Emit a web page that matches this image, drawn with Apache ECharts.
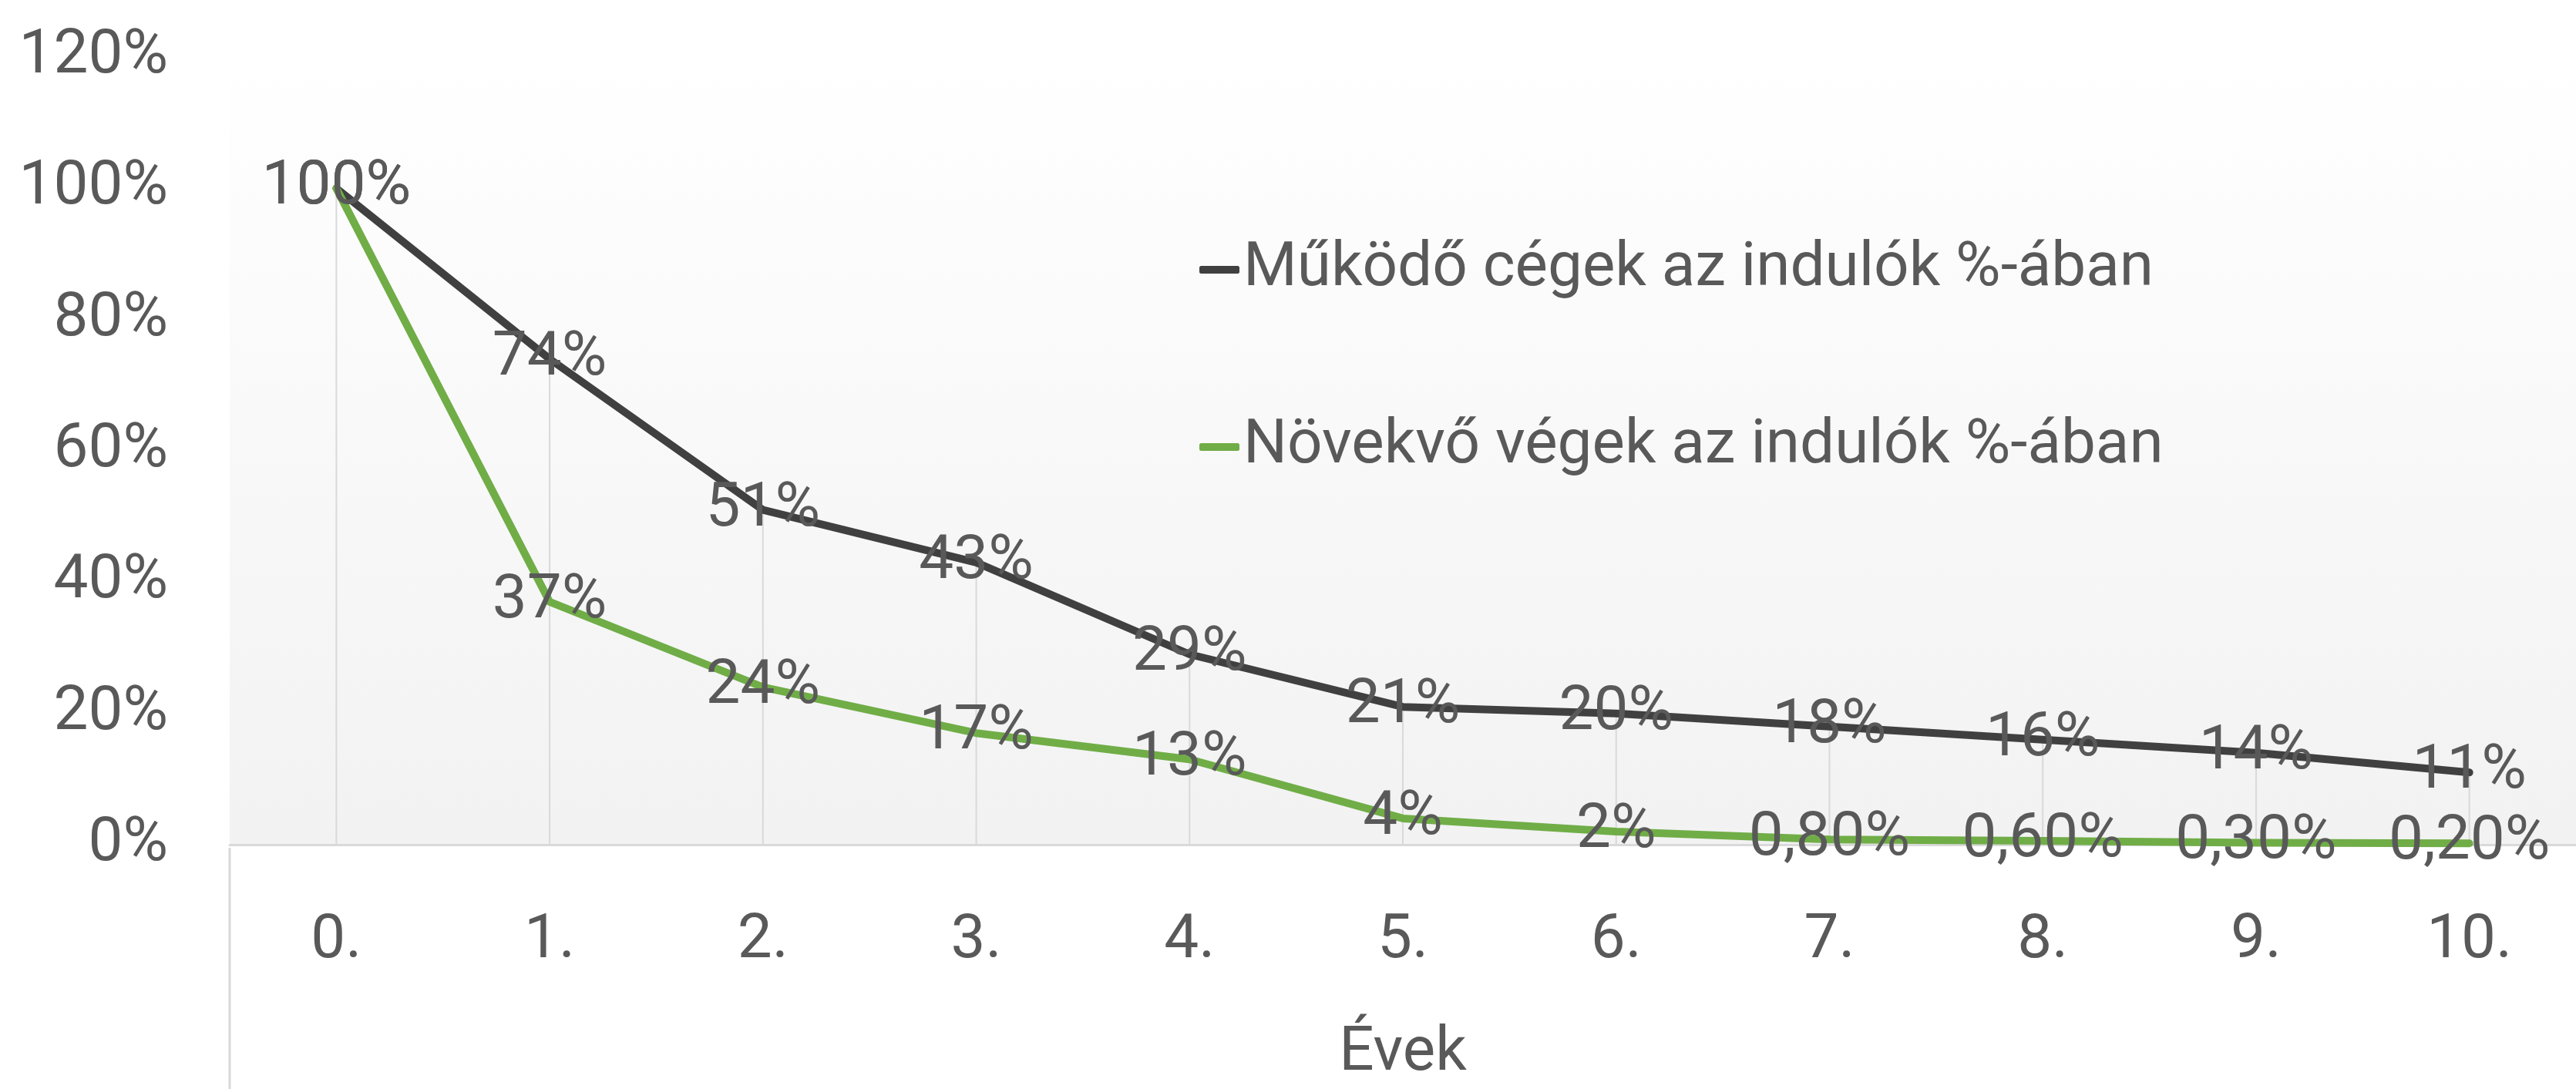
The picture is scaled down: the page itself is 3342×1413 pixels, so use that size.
<!DOCTYPE html>
<html>
<head>
<meta charset="utf-8">
<script src="https://cdn.jsdelivr.net/npm/echarts@6/dist/echarts.min.js"></script>
<style>
    html, body { margin: 0; padding: 0; background: #ffffff; }
    #chart { width: 3342px; height: 1413px; }
</style>
</head>
<body>
<div id="chart"></div>
<script>
const years = ['0.', '1.', '2.', '3.', '4.', '5.', '6.', '7.', '8.', '9.', '10.'];
const mukodo = [100, 74, 51, 43, 29, 21, 20, 18, 16, 14, 11];
const novekvo = [100, 37, 24, 17, 13, 4, 2, 0.8, 0.6, 0.3, 0.2];
const seriesNames = ['Működő cégek az indulók %-ában', 'Növekvő végek az indulók %-ában'];
const axisName = 'Évek';

// drop lines go from the axis up to the higher of the two points
const dropLines = mukodo.map((v, i) => Math.max(v, novekvo[i]));

const font = "Roboto, 'Liberation Sans', sans-serif";
const fontSize = 80;
const textColor = '#595959';

const fmt = (v) => Number.isInteger(v) ? v + '%' : v.toFixed(2).replace('.', ',') + '%';

const chart = echarts.init(document.getElementById('chart'));

chart.setOption({
    animation: false,
    textStyle: { fontFamily: font },
    grid: {
        left: 298,
        right: 0,
        top: 74,
        bottom: 313,
        show: true,
        borderWidth: 0,
        backgroundColor: {
            type: 'linear', x: 0, y: 0, x2: 0, y2: 1,
            colorStops: [
                { offset: 0, color: '#ffffff' },
                { offset: 1, color: '#f2f2f2' }
            ]
        }
    },
    legend: {
        data: seriesNames,
        orient: 'vertical',
        left: 1551,
        top: 295,
        itemGap: 130,
        itemWidth: 52,
        itemHeight: 10,
        icon: 'roundRect',
        textStyle: { fontFamily: font, fontSize: fontSize, lineHeight: 100, color: textColor }
    },
    xAxis: {
        type: 'category',
        data: years,
        boundaryGap: true,
        name: axisName,
        nameLocation: 'middle',
        nameGap: 232,
        nameTextStyle: { fontFamily: font, fontSize: fontSize, color: textColor },
        axisLine: { lineStyle: { color: '#d9d9d9', width: 3 } },
        axisTick: { show: false },
        axisLabel: { fontFamily: font, fontSize: fontSize, color: textColor, margin: 86 },
        splitLine: { show: false }
    },
    yAxis: {
        type: 'value',
        min: 0,
        max: 120,
        interval: 20,
        axisLine: { show: false },
        axisTick: { show: false },
        splitLine: { show: false },
        axisLabel: {
            fontFamily: font, fontSize: fontSize, color: textColor, margin: 80,
            formatter: (v) => v + '%'
        }
    },
    graphic: [{
        type: 'line',
        silent: true,
        shape: { x1: 298, y1: 1100, x2: 298, y2: 1413 },
        style: { stroke: '#d9d9d9', lineWidth: 3 }
    }],
    series: [
        {
            name: 'drop',
            type: 'bar',
            data: dropLines,
            barWidth: 2,
            silent: true,
            itemStyle: { color: '#d9d9d9' },
            z: 1
        },
        {
            name: seriesNames[0],
            type: 'line',
            data: mukodo,
            symbol: 'circle',
            symbolSize: 1,
            itemStyle: { color: '#404040' },
            lineStyle: { color: '#404040', width: 10, cap: 'round', join: 'round' },
            label: {
                show: true, position: 'inside', formatter: (p) => fmt(p.value),
                fontFamily: font, fontSize: fontSize, color: textColor
            },
            z: 3
        },
        {
            name: seriesNames[1],
            type: 'line',
            data: novekvo,
            symbol: 'circle',
            symbolSize: 1,
            itemStyle: { color: '#70ad47' },
            lineStyle: { color: '#70ad47', width: 10, cap: 'round', join: 'round' },
            label: {
                show: true, position: 'inside', formatter: (p) => fmt(p.value),
                fontFamily: font, fontSize: fontSize, color: textColor
            },
            z: 4
        }
    ]
});
</script>
</body>
</html>
